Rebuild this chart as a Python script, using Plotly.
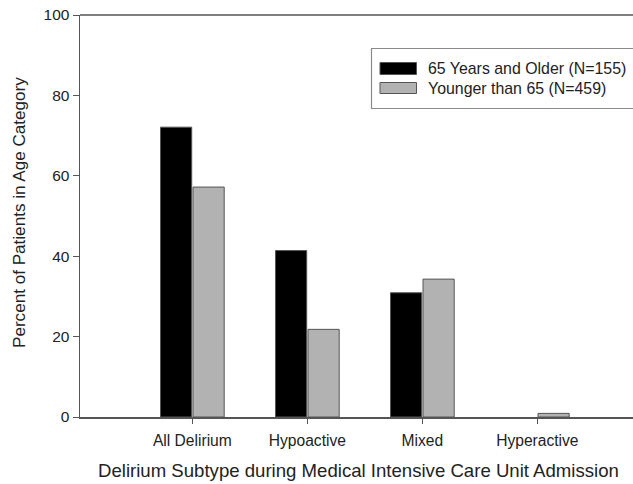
import plotly.graph_objects as go

categories = ["All Delirium", "Hypoactive", "Mixed", "Hyperactive"]
older_values = [72.1, 41.4, 30.9, 0.0]
younger_values = [57.2, 21.8, 34.3, 0.9]
series_names = ["65 Years and Older (N=155)", "Younger than 65 (N=459)"]
series_colors = ["#000000", "#b2b2b2"]
y_ticks = [0, 20, 40, 60, 80, 100]
x_title = "Delirium Subtype during Medical Intensive Care Unit Admission"
y_title = "Percent of Patients in Age Category"

W, H = 633, 484
L, R, T, B = 80, 0, 15, 67
FONT = "Liberation Sans, Arial, sans-serif"
TXT = "#222222"
AX = "#555555"

fig = go.Figure()
for name, vals, col in zip(series_names, [older_values, younger_values], series_colors):
    fig.add_trace(go.Bar(
        x=categories, y=vals, name=name,
        marker=dict(color=col,
                    line=dict(color=AX, width=[0 if v == 0 else 1 for v in vals])),
        showlegend=False, hoverinfo="skip",
    ))

pw = W - L - R
ph = H - T - B
def px_x(p):
    return (p - L) / pw
def px_y(p):
    return (H - B - p) / ph

shapes = []
annotations = []
# white strip at the cut-off right edge (the frame is open there)
shapes.append(dict(type="rect", xref="paper", yref="paper",
                   x0=px_x(630.5), x1=px_x(645), y0=px_y(416), y1=px_y(16.2),
                   line=dict(width=0), fillcolor="white", layer="above"))
# top frame line
shapes.append(dict(type="line", xref="paper", yref="paper", x0=0, x1=1.05, y0=1, y1=1,
                   line=dict(color=AX, width=1.5), layer="above"))
# legend box
shapes.append(dict(type="rect", xref="paper", yref="paper",
                   x0=px_x(371.5), x1=px_x(660), y0=px_y(108.5), y1=px_y(48.5),
                   line=dict(color="#8a8a8a", width=1.2), fillcolor="rgba(0,0,0,0)", layer="above"))
sw_y = [(62.5, 74.5), (82.5, 93.5)]
txt_y = [68.5, 88.5]
for i, (name, col) in enumerate(zip(series_names, series_colors)):
    shapes.append(dict(type="rect", xref="paper", yref="paper",
                       x0=px_x(380), x1=px_x(416.5), y0=px_y(sw_y[i][1]), y1=px_y(sw_y[i][0]),
                       line=dict(color=AX, width=1), fillcolor=col, layer="above"))
    annotations.append(dict(text=name, xref="paper", yref="paper",
                            x=px_x(426), y=px_y(txt_y[i]), xanchor="left", yanchor="middle",
                            showarrow=False, font=dict(family=FONT, size=15.9, color=TXT)))

annotations.append(dict(text=x_title, xref="paper", yref="paper",
                        x=px_x(358), y=px_y(470), xanchor="center", yanchor="middle",
                        showarrow=False, font=dict(family=FONT, size=18.6, color=TXT)))
annotations.append(dict(text=y_title, xref="paper", yref="paper",
                        x=px_x(19), y=px_y(213), xanchor="center", yanchor="middle",
                        textangle=-90,
                        showarrow=False, font=dict(family=FONT, size=17.1, color=TXT)))

x_right = -0.977 + (W - L) / 115.0

fig.update_layout(
    width=W, height=H,
    margin=dict(l=L, r=R, t=T, b=B, pad=0),
    plot_bgcolor="white", paper_bgcolor="white",
    barmode="group", bargap=0.435, bargroupgap=0.04,
    shapes=shapes, annotations=annotations,
    font=dict(family=FONT, color=TXT, size=15),
    xaxis=dict(range=[-0.977, x_right], showline=True, linecolor=AX, linewidth=1.5,
               ticks="outside", ticklen=5, tickcolor=AX,
               ticklabelstandoff=4,
               tickfont=dict(family=FONT, size=15.6, color=TXT), showgrid=False, zeroline=False),
    yaxis=dict(range=[0, 100], tickvals=y_ticks, showline=True, linecolor=AX, linewidth=1.5,
               ticks="outside", ticklen=6, tickcolor=AX,
               tickfont=dict(family=FONT, size=15.5, color=TXT), showgrid=False, zeroline=False),
)

fig.write_html("out.html", config={"displayModeBar": False, "staticPlot": True},
               post_script="document.body.style.margin='0';document.body.style.overflow='hidden';")
